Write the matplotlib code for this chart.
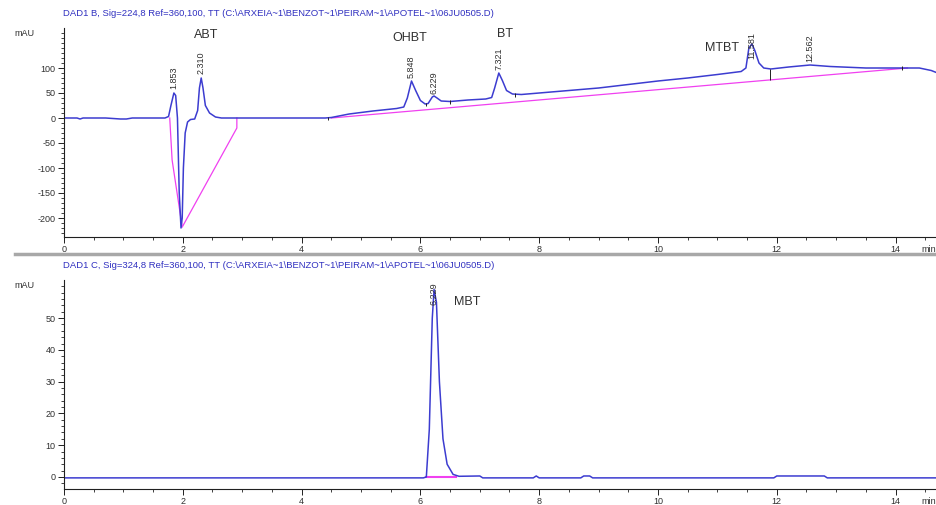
import matplotlib.pyplot as plt
from matplotlib.lines import Line2D

plt.rcParams["font.family"] = ["Liberation Sans", "DejaVu Sans"]

# Signal B (224 nm): time (min), absorbance (mAU)
time_b = [0.0, 0.22, 0.27, 0.32, 0.7, 0.95, 1.05, 1.15, 1.70, 1.76, 1.80, 1.85,
          1.88, 1.91, 1.94, 1.97, 1.99, 2.01, 2.04, 2.08, 2.13, 2.20, 2.25, 2.28,
          2.31, 2.34, 2.38, 2.45, 2.55, 2.65, 4.40, 4.50, 4.80, 5.20, 5.60, 5.72,
          5.78, 5.85, 5.92, 6.00, 6.08, 6.13, 6.20, 6.23, 6.28, 6.35, 6.50, 6.80,
          7.10, 7.20, 7.25, 7.32, 7.38, 7.45, 7.55, 7.70, 8.00, 8.50, 9.00, 9.50,
          10.0, 10.5, 11.0, 11.4, 11.48, 11.53, 11.58, 11.63, 11.70, 11.78, 11.90,
          12.2, 12.56, 12.9, 13.5, 14.0, 14.4, 14.6, 14.75]
signal_b = [0, 0, -2, 0, 0, -2, -2, 0, 0, 3, 25, 50,
            45, 0, -150, -220, -200, -100, -30, -8, -3, -2, 15, 60,
            80, 60, 25, 10, 2, 0, 0, 1, 8, 14, 19, 22,
            40, 74, 55, 35, 28, 29, 42, 44, 40, 34, 33, 36,
            38, 41, 60, 90, 75, 55, 48, 47, 50, 55, 60, 67,
            74, 80, 87, 93, 100, 140, 148, 135, 110, 100, 98,
            102, 106, 103, 100, 100, 100, 95, 88]

# Integration baselines for signal B
base_b1_t = [1.78, 1.82, 1.99]
base_b1_y = [0, -84, -218]
base_b2_t = [2.00, 2.91, 2.91]
base_b2_y = [-216, -20, 0]
base_b3_t = [4.50, 14.2]
base_b3_y = [0, 100]

# Peak split marks on signal B: time, low, high
split_t = [4.45, 6.10, 6.50, 7.60, 11.88, 14.10]
split_lo = [-4, 24, 28, 42, 76, 96]
split_hi = [3, 30, 36, 50, 98, 104]

# Retention time labels for signal B
rt_b = ["1.853", "2.310", "5.848", "6.229", "7.321", "11.581", "12.562"]
rt_b_t = [1.853, 2.310, 5.848, 6.229, 7.321, 11.581, 12.562]
rt_b_y = [58, 88, 80, 48, 96, 118, 112]

names_b = ["ABT", "OHBT", "BT", "MTBT"]
names_b_t = [2.40, 5.82, 7.42, 11.08]
names_b_y = [166, 160, 168, 140]

# Signal C (324 nm)
time_c = [0.0, 6.05, 6.10, 6.15, 6.20, 6.23, 6.27, 6.32, 6.38, 6.45, 6.55, 6.65,
          7.00, 7.05, 7.90, 7.95, 8.00, 8.70, 8.75, 8.85, 8.90, 11.95, 12.0,
          12.8, 12.85, 14.75]
signal_c = [-0.3, -0.3, 0, 15, 50, 59, 55, 30, 12, 4, 0.8, 0.2,
            0.3, -0.3, -0.3, 0.3, -0.3, -0.3, 0.3, 0.3, -0.3, -0.3, 0.3,
            0.3, -0.3, -0.3]
base_c_t = [6.10, 6.60]
base_c_y = [0, 0]

title_b = r"DAD1 B, Sig=224,8 Ref=360,100, TT (C:\ARXEIA~1\BENZOT~1\PEIRAM~1\APOTEL~1\06JU0505.D)"
title_c = r"DAD1 C, Sig=324,8 Ref=360,100, TT (C:\ARXEIA~1\BENZOT~1\PEIRAM~1\APOTEL~1\06JU0505.D)"

line_col = "#3c3cd0"
base_col = "#f040f0"
title_col = "#3030c0"
text_col = "#303030"

fig = plt.figure(figsize=(9.37, 5.05), dpi=100)
ax1 = fig.add_axes([64 / 937, 1 - 237 / 505, 873 / 937, 209 / 505])
ax2 = fig.add_axes([64 / 937, 1 - 489 / 505, 873 / 937, 209 / 505])


def style_axis(ax, yticks, ymin, ymax, yminor):
    ax.set_xlim(0, 873 / 59.4)
    ax.set_ylim(ymin, ymax)
    ax.set_xticks(range(0, 15, 2))
    ax.set_xticks([i * 0.5 for i in range(30)], minor=True)
    ax.set_yticks(yticks)
    ax.set_yticks(yminor, minor=True)
    ax.set_yticklabels([str(v) for v in yticks])
    for s in ["top", "right"]:
        ax.spines[s].set_visible(False)
    for s in ["left", "bottom"]:
        ax.spines[s].set_linewidth(0.8)
        ax.spines[s].set_color("#202020")
    ax.tick_params(which="major", length=4, width=0.7, labelsize=6.5,
                   colors="#202020", labelcolor=text_col, pad=2)
    ax.tick_params(which="minor", length=2, width=0.6, colors="#202020")
    ax.text(-0.045, 0.975, "mAU", transform=ax.transAxes, fontsize=6.5,
            color=text_col, ha="center", va="center")
    # axis unit at the far right end
    ax.annotate("min", xy=(1, 0), xycoords="axes fraction", xytext=(-1, -6),
                textcoords="offset points", fontsize=6.5, color=text_col,
                ha="right", va="top")


# top chromatogram
style_axis(ax1, [100, 50, 0, -50, -100, -150, -200], -238, 180,
           list(range(-230, 180, 10)))
ax1.plot(base_b1_t, base_b1_y, color=base_col, lw=0.9)
ax1.plot(base_b2_t, base_b2_y, color=base_col, lw=0.9)
ax1.plot(base_b3_t, base_b3_y, color=base_col, lw=0.9)
ax1.plot(time_b, signal_b, color=line_col, lw=1.1)
ax1.vlines(split_t, split_lo, split_hi, color="#202020", lw=0.7)
for lab, t, y in zip(rt_b, rt_b_t, rt_b_y):
    ax1.text(t, y, lab, rotation=90, fontsize=6.5, color=text_col,
             ha="center", va="bottom")
for lab, t, y in zip(names_b, names_b_t, names_b_y):
    ax1.text(t, y, lab, fontsize=9, color=text_col, ha="center", va="center")

# bottom chromatogram
style_axis(ax2, [0, 10, 20, 30, 40, 50], -3.8, 62, list(range(-2, 62, 2)))
ax2.plot(base_c_t, base_c_y, color=base_col, lw=1.5)
ax2.plot(time_c, signal_c, color=line_col, lw=1.1)
ax2.text(6.229, 54, "6.229", rotation=90, fontsize=6.5, color=text_col,
         ha="center", va="bottom")
ax2.text(6.78, 55, "MBT", fontsize=9, color=text_col, ha="center", va="center")

# titles and separator
fig.text(63 / 937, 1 - 14 / 505, title_b, fontsize=6.8, color=title_col,
         ha="left", va="center")
fig.text(63 / 937, 1 - 265 / 505, title_c, fontsize=6.8, color=title_col,
         ha="left", va="center")
fig.add_artist(Line2D([15 / 937, 1], [1 - 254 / 505, 1 - 254 / 505],
                      color="#a8a8a8", lw=2.5))

fig.savefig("out.png", dpi=100)
